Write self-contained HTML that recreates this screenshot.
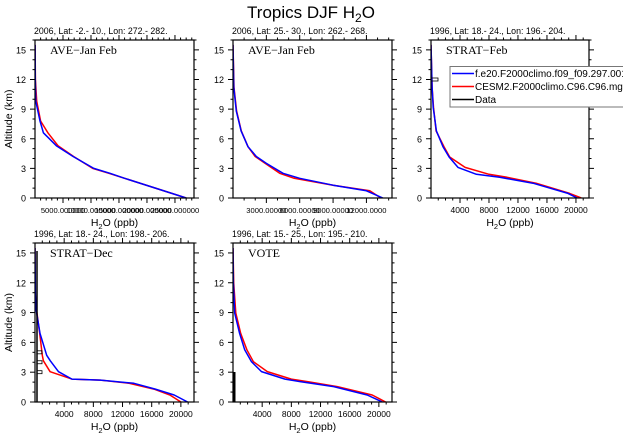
<!DOCTYPE html>
<html><head><meta charset="utf-8"><style>
html,body{margin:0;padding:0;background:#fff;}
svg{display:block;font-family:"Liberation Sans",sans-serif;}
</style></head><body>
<svg id="chart" width="623" height="436" viewBox="0 0 623 436" xmlns="http://www.w3.org/2000/svg">
<text x="311" y="18" text-anchor="middle" font-size="17">Tropics DJF H<tspan font-size="12" dy="4">2</tspan><tspan dy="-4">O</tspan></text>
</svg>
<script>
// ---- data ----
const p1Alt  = [0,1,2,2.5,3,4.2,5.3,6.6,7.8,9.8,12,15.5];
const p1Blue = [27000,21500,16000,13400,10500,6800,3800,1500,900,150,50,10];
const p1Red  = [27000,21500,16000,13200,10300,6900,4100,2300,1000,300,80,10];
const p2Alt  = [0,0.73,1.3,2,2.5,3.5,4.2,5.2,6.8,8.8,11.2,15.5];
const p2Blue = [13470,12000,9000,6000,4500,3000,2100,1350,730,300,70,0];
const p2Red  = [13300,12300,9000,5500,4200,2900,2000,1350,750,320,90,0];
const p3Alt  = [0,0.47,1.5,2.1,2.4,3.1,4.15,5.2,6.8,9.2,11.2,15.5];
const p3Blue = [20190,18900,14070,9480,6260,3730,2500,1660,740,300,150,0];
const p3Red  = [20740,19130,14500,10500,8000,4700,2580,1800,700,350,150,0];
const p4Alt  = [0,0.7,1.3,1.88,2.2,2.3,3.05,4.15,4.7,6.9,9.3,11,15.5];
const p4Blue = [20920,19080,16500,13560,8970,5060,3220,2100,1610,690,150,50,0];
const p4Red  = [20000,18500,16300,12900,8970,5060,2070,1150,1000,650,200,20,0];
const p5Alt  = [0,0.7,1.55,2.05,2.3,3.06,4.06,5.25,6.9,8.95,12,15.5];
const p5Blue = [20470,18400,13800,9200,7130,3910,2540,1610,900,230,50,0];
const p5Red  = [20920,19080,14300,10200,8000,4700,2800,1900,1050,380,100,0];
const yTicks = [0,3,6,9,12,15];
const p1XTicks = [5000,10000,15000,20000,25000];
const p1XLabels = ["5000.000000","10000.000000","15000.000000","20000.000000","25000.000000"];
const p2XTicks = [3000,6000,9000,12000];
const p2XLabels = ["3000.00000","6000.00000","9000.00000","12000.0000"];
const p3XTicks = [4000,8000,12000,16000,20000];
const p3XLabels = ["4000","8000","12000","16000","20000"];
const subtitles = ["2006, Lat: -2.- 10., Lon: 272.- 282.","2006, Lat: 25.- 30., Lon: 262.- 268.","1996, Lat: 18.- 24., Lon: 196.- 204.","1996, Lat: 18.- 24., Lon: 198.- 206.","1996, Lat: 15.- 25., Lon: 195.- 210."];
const panelLabels = ["AVE\u2212Jan Feb","AVE\u2212Jan Feb","STRAT\u2212Feb","STRAT\u2212Dec","VOTE"];
const legendNames = ["f.e20.F2000climo.f09_f09.297.001","CESM2.F2000climo.C96.C96.mg17","Data"];

const NS="http://www.w3.org/2000/svg";
const svg=document.getElementById('chart');
function mk(tag,attrs,parent){const e=document.createElementNS(NS,tag);for(const k in attrs)e.setAttribute(k,attrs[k]);(parent||svg).appendChild(e);return e;}

const panels=[
 {x0:35,x1:194,y0:40,y1:198,xmin:0,xmax:28400,alt:p1Alt,blue:p1Blue,red:p1Red,xt:p1XTicks,xl:p1XLabels,fs:7.6,minor:1000,ylab:true},
 {x0:233,x1:392,y0:40,y1:198,xmin:0,xmax:14300,alt:p2Alt,blue:p2Blue,red:p2Red,xt:p2XTicks,xl:p2XLabels,fs:7.6,minor:1000,ylab:false},
 {x0:431,x1:589,y0:40,y1:198,xmin:0,xmax:21800,alt:p3Alt,blue:p3Blue,red:p3Red,xt:p3XTicks,xl:p3XLabels,fs:8.5,minor:1000,ylab:false},
 {x0:35,x1:194,y0:243,y1:402,xmin:0,xmax:21800,alt:p4Alt,blue:p4Blue,red:p4Red,xt:p3XTicks,xl:p3XLabels,fs:8.5,minor:1000,ylab:true},
 {x0:233,x1:392,y0:243,y1:402,xmin:0,xmax:21800,alt:p5Alt,blue:p5Blue,red:p5Red,xt:p3XTicks,xl:p3XLabels,fs:8.5,minor:1000,ylab:false}
];

panels.forEach((p,i)=>{
  const g=mk('g',{});
  
  
  const xs=v=>p.x0+(v-p.xmin)/(p.xmax-p.xmin)*(p.x1-p.x0);
  const ys=a=>p.y1-a/16*(p.y1-p.y0);
  for(let a=0;a<=16;a++){
    const major=a%3===0, L=major?5:2.5, y=ys(a);
    mk('line',{x1:p.x0-L,x2:p.x0,y1:y,y2:y,stroke:'#000','stroke-width':1},g);
    mk('line',{x1:p.x1,x2:p.x1+L,y1:y,y2:y,stroke:'#000','stroke-width':1},g);
  }
  for(let v=p.minor;v<p.xmax;v+=p.minor){
    const major=p.xt.includes(v), L=major?5:2.5, x=xs(v);
    mk('line',{x1:x,x2:x,y1:p.y1,y2:p.y1+L,stroke:'#000','stroke-width':1},g);
    mk('line',{x1:x,x2:x,y1:p.y0-L,y2:p.y0,stroke:'#000','stroke-width':1},g);
  }
  yTicks.forEach(a=>{
    const t=mk('text',{x:p.x0-9,y:ys(a)+3.5,'text-anchor':'end','font-size':9},g);
    t.textContent=a;
    
    
  });
  p.xt.forEach((v,k)=>{
    const t=mk('text',{x:xs(v),y:p.y1+15,'text-anchor':'middle','font-size':p.fs},g);
    t.textContent=p.xl[k];
    
    
  });
  if(p.ylab){
    const cy=(p.y0+p.y1)/2;
    const t=mk('text',{x:12,y:cy,'text-anchor':'middle','font-size':10.5,transform:`rotate(-90 12 ${cy})`},g);
    t.textContent='Altitude (km)';
    
    
  }
  const xt=mk('text',{x:(p.x0+p.x1)/2,y:p.y1+28,'text-anchor':'middle','font-size':10.5},g);
  xt.innerHTML='H<tspan font-size="7.5" dy="3">2</tspan><tspan dy="-3">O (ppb)</tspan>';
  
  
  const st=mk('text',{x:p.x0-1,y:p.y0-6,'font-size':8.8},g);
  st.textContent=subtitles[i];
  
  
  const pl=mk('text',{x:p.x0+15,y:p.y0+14,'font-size':12,'font-family':'"Liberation Serif",serif'},g);
  pl.textContent=panelLabels[i];
  
  
  const clip='clip'+i;
  const cp=mk('clipPath',{id:clip},g);mk('rect',{x:p.x0,y:p.y0,width:p.x1-p.x0,height:p.y1-p.y0},cp);
  const path=arr=>arr.map((v,k)=>(k?'L':'M')+xs(v).toFixed(1)+','+ys(p.alt[k]).toFixed(1)).join('');
  const r=mk('path',{d:path(p.red),fill:'none',stroke:'#ff0000','stroke-width':1.5,'stroke-linejoin':'round','clip-path':`url(#${clip})`},g);
  
  
  const b=mk('path',{d:path(p.blue),fill:'none',stroke:'#0000ff','stroke-width':1.5,'stroke-linejoin':'round','clip-path':`url(#${clip})`},g);
  
  
  const fr=mk('rect',{x:p.x0,y:p.y0,width:p.x1-p.x0,height:p.y1-p.y0,fill:'none',stroke:'#000','stroke-width':1.2},g);
  
  
});

(function(){
  const p=panels[3];
  const g=mk('g',{stroke:'#000','stroke-width':1.5,fill:'none'});
  
  
  mk('line',{x1:p.x0+2,x2:p.x0+2,y1:p.y1,y2:p.y0+8},g);
  [3,4,5].forEach(a=>{const y=p.y1-a/16*(p.y1-p.y0);mk('rect',{x:p.x0+2,y:y-1.5,width:5,height:3,'stroke-width':0.8},g);});
  const q=panels[4];
  const g2=mk('g',{stroke:'#000','stroke-width':2});
  
  
  mk('line',{x1:q.x0+1.5,x2:q.x0+1.5,y1:q.y1,y2:q.y1-30},g2);
  const r=panels[2];
  const g3=mk('g',{});
  
  
  mk('rect',{x:r.x0,y:r.y1-12/16*(r.y1-r.y0)-1.5,width:7,height:3,fill:'none',stroke:'#000','stroke-width':0.8},g3);
})();

(function(){
  const g=mk('g',{});
  
  
  mk('rect',{x:450,y:66.5,width:180,height:40.5,fill:'#fff',stroke:'#777','stroke-width':1},g);
  const cols=['#0000ff','#ff0000','#000'];
  legendNames.forEach((n,k)=>{
    const y=73.5+k*13;
    const e=mk('g',{},g);
    
    
    mk('line',{x1:452,x2:474,y1:y,y2:y,stroke:cols[k],'stroke-width':1.5},e);
    const t=mk('text',{x:475,y:y+3.5,'font-size':10},e);
    t.textContent=n;
  });
})();
</script>
</body></html>
